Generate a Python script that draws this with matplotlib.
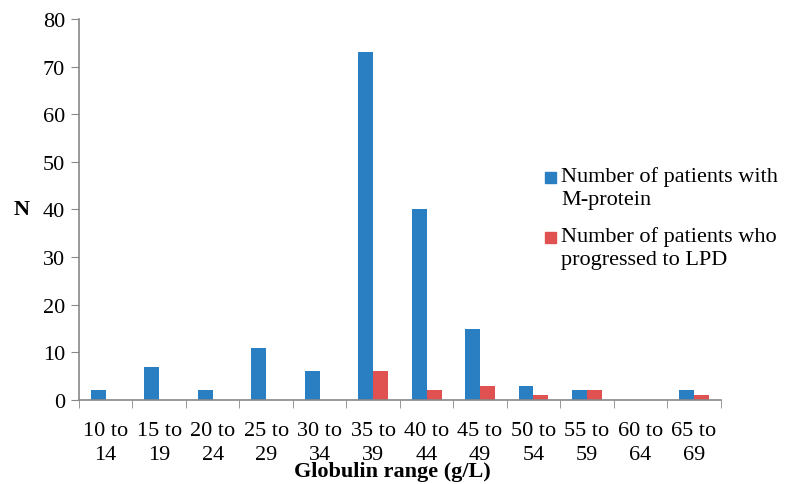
import matplotlib.pyplot as plt
import numpy as np
from matplotlib.patches import Rectangle

ranges = ["10 to\n14", "15 to\n19", "20 to\n24", "25 to\n29", "30 to\n34", "35 to\n39",
          "40 to\n44", "45 to\n49", "50 to\n54", "55 to\n59", "60 to\n64", "65 to\n69"]
m_protein = [2, 7, 2, 11, 6, 73, 40, 15, 3, 2, 0, 2]
progressed = [0, 0, 0, 0, 0, 6, 2, 3, 1, 2, 0, 1]
series_labels = ["Number of patients with\nM-protein", "Number of patients who\nprogressed to LPD"]
colors = ["#2A7FC2", "#E05252"]

plt.rcParams["font.family"] = ["Liberation Serif", "DejaVu Serif"]

fig = plt.figure(figsize=(7.85, 4.85), dpi=100)
ax = fig.add_axes([0.1006, 0.1732, 0.8174, 0.7856])

x = np.arange(len(ranges))
w = 0.28
ax.bar(x - w / 2, m_protein, w, color=colors[0])
ax.bar(x + w / 2, progressed, w, color=colors[1])

ax.set_xlim(-0.5, len(ranges) - 0.5)
ax.set_ylim(0, 80)
ax.set_yticks(range(0, 81, 10))
ax.set_xticks(x)
ax.set_xticklabels(ranges, fontsize=16, linespacing=1.4)
ax.set_xticks(np.arange(-0.5, len(ranges)), minor=True)
ax.tick_params(axis="x", which="major", length=0, pad=15)
ax.tick_params(axis="x", which="minor", length=6, color="#888888", direction="out")
ax.tick_params(axis="y", length=6, color="#888888", labelsize=16, pad=4)

for s in ["top", "right"]:
    ax.spines[s].set_visible(False)
for s in ["left", "bottom"]:
    ax.spines[s].set_color("#888888")
    ax.spines[s].set_linewidth(1.2)

fig.text(0.5, 0.027, "Globulin range (g/L)", ha="center", va="center",
         fontsize=16, fontweight="bold")
fig.text(0.028, 0.567, "N", ha="center", va="center", fontsize=16, fontweight="bold")

# legend drawn by hand so the swatch sits on the first line of each label
W, H = 785, 485
for i, (lab, col) in enumerate(zip(series_labels, colors)):
    y_top = 173 + i * 60
    fig.patches.append(Rectangle((545 / W, 1 - (y_top + 11) / H), 11 / W, 11 / H,
                                 transform=fig.transFigure, color=col))
    fig.text(561 / W, 1 - (y_top - 6) / H, lab, ha="left", va="top",
             fontsize=16, linespacing=1.3)

fig.savefig("out.png", dpi=100)
